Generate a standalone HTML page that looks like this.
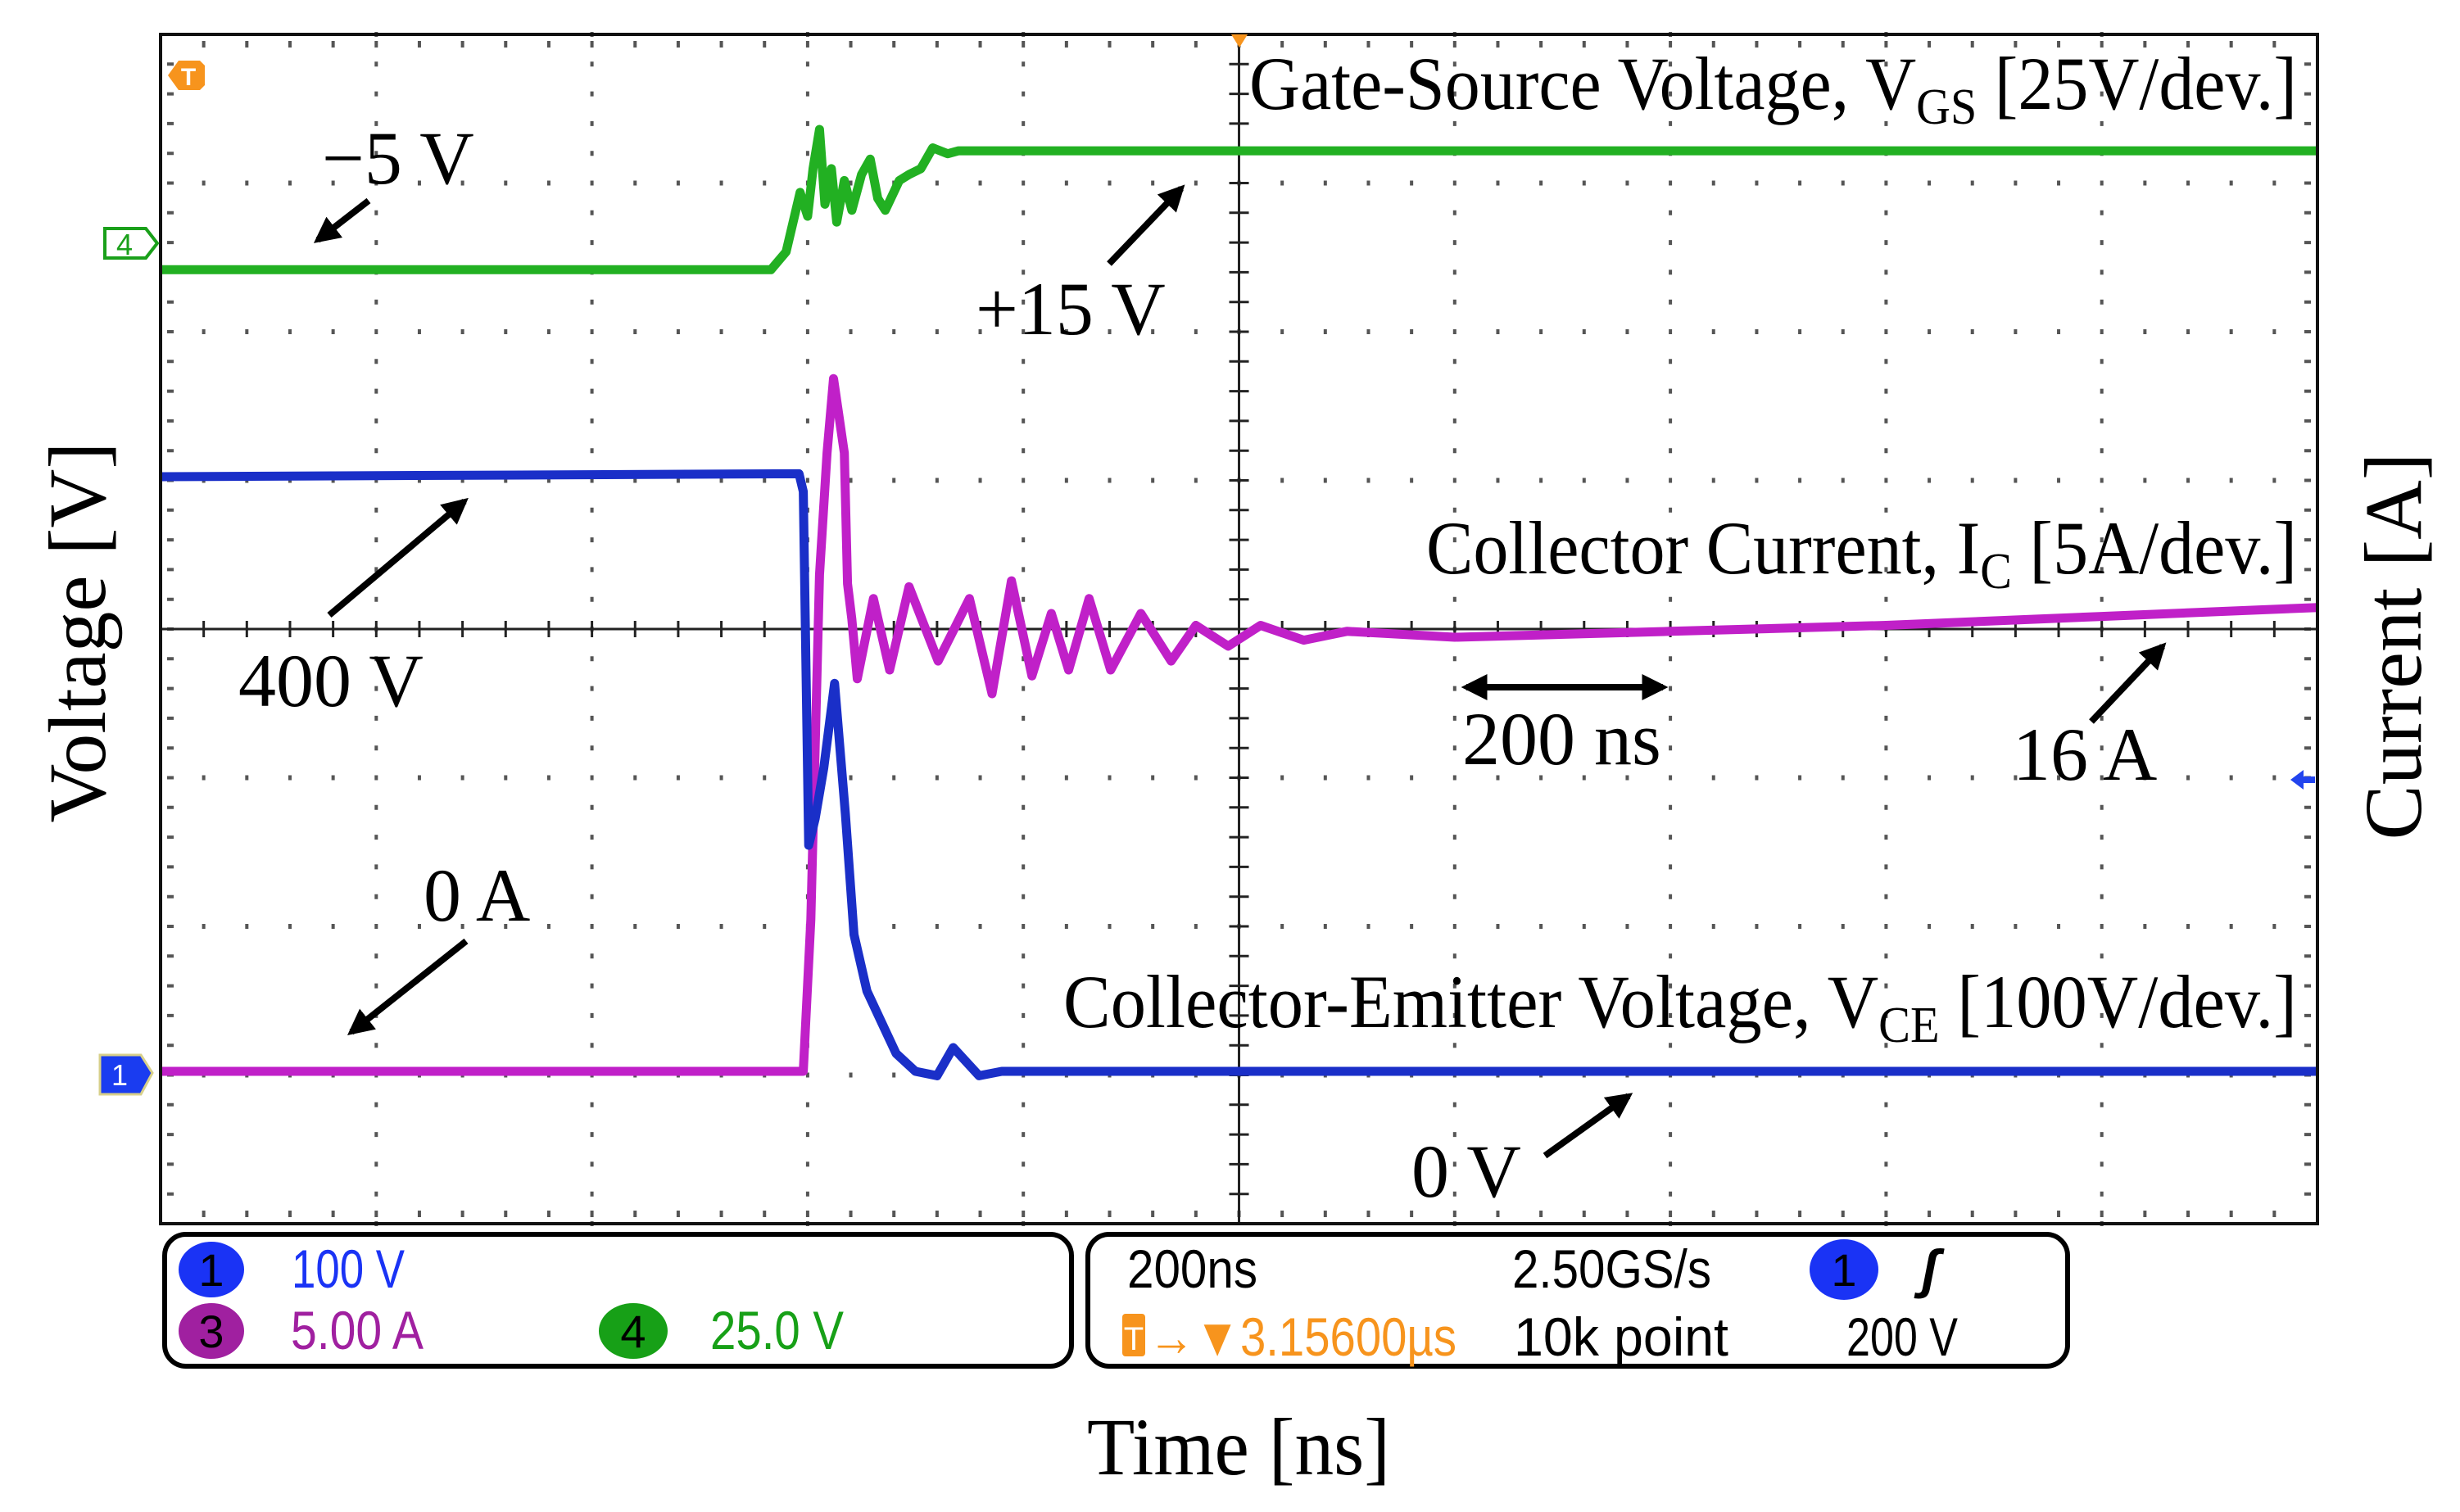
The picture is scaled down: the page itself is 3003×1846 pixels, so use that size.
<!DOCTYPE html>
<html><head><meta charset="utf-8"><style>
html,body{margin:0;padding:0;background:#fff;}
svg{display:block;}
.ser{font-family:"Liberation Serif","DejaVu Serif",serif;fill:#000;}
.scope{font-family:"Liberation Sans Narrow","Liberation Sans",sans-serif;}
</style></head><body>
<svg id="chart" width="3003" height="1846" viewBox="0 0 3003 1846" xmlns="http://www.w3.org/2000/svg">
<g id="grid"></g>
<g id="traces"></g>
<rect x="196" y="42" width="2633" height="1452" fill="none" stroke="#111" stroke-width="4"/>

<!-- markers -->
<g>
<polygon points="205,92 218,74 244,74 250,80 250,104 244,110 218,110" fill="#f7941d"/>
<text x="230" y="104" font-family="Liberation Sans,sans-serif" font-size="30" fill="#fff" text-anchor="middle" font-weight="bold">T</text>
</g>
<polygon points="1503,42 1523,42 1513,58" fill="#f7941d"/>
<g>
<polygon points="128,279 178,279 192,297 178,315 128,315" fill="#fff" stroke="#1aa01a" stroke-width="4"/>
<text x="152" y="311" font-family="Liberation Sans,sans-serif" font-size="36" fill="#1aa01a" text-anchor="middle">4</text>
</g>
<g>
<polygon points="122,1288 172,1288 186,1310 172,1336 122,1336" fill="#1a3cf0" stroke="#d8d08a" stroke-width="3"/>
<text x="146" y="1325" font-family="Liberation Sans,sans-serif" font-size="36" fill="#fff" text-anchor="middle">1</text>
</g>
<polygon points="2796,952 2812,940 2812,948 2826,948 2826,956 2812,956 2812,964" fill="#2244ee"/>

<!-- trace labels -->
<text class="ser" x="1525" y="133" font-size="92" textLength="1279" lengthAdjust="spacingAndGlyphs">Gate-Source Voltage, V<tspan font-size="62" dy="18">GS</tspan><tspan dy="-18"> [25V/dev.]</tspan></text>
<text class="ser" x="1741" y="700" font-size="92" textLength="1063" lengthAdjust="spacingAndGlyphs">Collector Current, I<tspan font-size="62" dy="18">C</tspan><tspan dy="-18"> [5A/dev.]</tspan></text>
<text class="ser" x="1298" y="1254" font-size="92" textLength="1506" lengthAdjust="spacingAndGlyphs">Collector-Emitter Voltage, V<tspan font-size="62" dy="18">CE</tspan><tspan dy="-18"> [100V/dev.]</tspan></text>

<text class="ser" x="393" y="224" font-size="92">−5 V</text>
<text class="ser" x="1191" y="408" font-size="92">+15 V</text>
<text class="ser" x="291" y="862" font-size="92">400 V</text>
<text class="ser" x="1785" y="933" font-size="92">200 ns</text>
<text class="ser" x="2457" y="952" font-size="92">16 A</text>
<text class="ser" x="517" y="1124" font-size="92">0 A</text>
<text class="ser" x="1723" y="1461" font-size="92">0 V</text>

<defs><marker id="ah" viewBox="0 0 10 10" refX="8" refY="5" markerWidth="4" markerHeight="4" orient="auto-start-reverse"><path d="M0,0 L10,5 L0,10 z" fill="#000"/></marker></defs>
<g stroke="#000" stroke-width="8" fill="none">
<line x1="450" y1="245" x2="388" y2="293" marker-end="url(#ah)"/>
<line x1="1354" y1="322" x2="1442" y2="230" marker-end="url(#ah)"/>
<line x1="402" y1="751" x2="567" y2="612" marker-end="url(#ah)"/>
<line x1="1790" y1="839" x2="2030" y2="839" marker-start="url(#ah)" marker-end="url(#ah)"/>
<line x1="2553" y1="881" x2="2640" y2="789" marker-end="url(#ah)"/>
<line x1="569" y1="1149" x2="429" y2="1260" marker-end="url(#ah)"/>
<line x1="1886" y1="1411" x2="1988" y2="1338" marker-end="url(#ah)"/>
</g>

<!-- axis titles -->
<text class="ser" transform="translate(128,772) rotate(-90)" font-size="100" text-anchor="middle" textLength="465" lengthAdjust="spacingAndGlyphs">Voltage [V]</text>
<text class="ser" transform="translate(2955,789) rotate(-90)" font-size="100" text-anchor="middle" textLength="473" lengthAdjust="spacingAndGlyphs">Current [A]</text>
<text class="ser" x="1512" y="1800" font-size="100" text-anchor="middle" textLength="370" lengthAdjust="spacingAndGlyphs">Time [ns]</text>

<!-- channel info box -->
<g>
<rect x="201" y="1507" width="1107" height="161" rx="26" fill="#fff" stroke="#000" stroke-width="6"/>
<ellipse cx="258" cy="1550" rx="40" ry="34" fill="#1a33f5"/>
<text class="scope" x="258" y="1570" font-size="56" text-anchor="middle" fill="#000">1</text>
<text class="scope" x="356" y="1572" font-size="66" textLength="138" lengthAdjust="spacingAndGlyphs" fill="#1a33f5">100 V</text>
<ellipse cx="258" cy="1625" rx="40" ry="34" fill="#a020a0"/>
<text class="scope" x="258" y="1645" font-size="56" text-anchor="middle" fill="#000">3</text>
<text class="scope" x="355" y="1647" font-size="66" textLength="162" lengthAdjust="spacingAndGlyphs" fill="#a020a0">5.00 A</text>
<ellipse cx="773" cy="1625" rx="42" ry="34" fill="#17a017"/>
<text class="scope" x="773" y="1645" font-size="56" text-anchor="middle" fill="#000">4</text>
<text class="scope" x="867" y="1647" font-size="66" textLength="163" lengthAdjust="spacingAndGlyphs" fill="#17a017">25.0 V</text>
</g>
<g>
<rect x="1328" y="1507" width="1196" height="161" rx="26" fill="#fff" stroke="#000" stroke-width="6"/>
<text class="scope" x="1376" y="1572" font-size="66" textLength="159" lengthAdjust="spacingAndGlyphs" fill="#000">200ns</text>
<text class="scope" x="1846" y="1572" font-size="66" textLength="243" lengthAdjust="spacingAndGlyphs" fill="#000">2.50GS/s</text>
<ellipse cx="2251" cy="1550" rx="42" ry="37" fill="#1a33f5"/>
<text class="scope" x="2251" y="1570" font-size="56" text-anchor="middle" fill="#000">1</text>
<text class="scope" x="2345" y="1572" font-size="66" font-style="italic" font-weight="bold" fill="#000">ʃ</text>
<rect x="1370" y="1604" width="28" height="52" rx="4" fill="#f7941d"/>
<text class="scope" x="1384" y="1648" font-size="40" text-anchor="middle" fill="#fff">T</text>
<text class="scope" x="1402" y="1655" font-size="66" textLength="376" lengthAdjust="spacingAndGlyphs" fill="#f7941d">→▼3.15600µs</text>
<text class="scope" x="1848" y="1655" font-size="66" textLength="262" lengthAdjust="spacingAndGlyphs" fill="#000">10k point</text>
<text class="scope" x="2254" y="1655" font-size="66" textLength="136" lengthAdjust="spacingAndGlyphs" fill="#000">200 V</text>
</g>
</svg>
<script>
// ---- data (time in ns) ----
const vceTimes = [0, 592, 596, 601, 607, 615, 625, 635, 643, 655, 682, 700, 720, 735, 759, 780, 2000];
const vceValues = [400, 402, 390, 152, 170, 204, 261, 173, 92, 54, 12, 0, -3, 16, -3, 0, 0];
const icTimes = [0, 596, 603, 607, 611, 618, 624, 634, 637, 641, 646, 661, 676, 694, 721, 750, 771, 789, 808, 826, 842, 861, 881, 909, 937, 960, 990, 1020, 1060, 1100, 1200, 1400, 1600, 1800, 2000];
const icValues = [0, 0, 5.1, 10.9, 16.7, 20.8, 23.3, 20.8, 16.4, 15.2, 13.2, 15.9, 13.5, 16.3, 13.8, 15.9, 12.7, 16.5, 13.3, 15.4, 13.5, 15.9, 13.5, 15.4, 13.8, 15.0, 14.3, 15.0, 14.5, 14.8, 14.6, 14.8, 15.0, 15.3, 15.6];
const vgsTimes = [0, 566, 580, 593, 600, 605, 611, 616, 622, 627, 634, 641, 650, 658, 665, 672, 685, 694, 705, 716, 730, 740, 2000];
const vgsValues = [-5, -5, -2, 8, 4, 12, 18.6, 6, 12, 3, 10, 5, 11, 13.6, 7, 5, 10, 11, 12, 15.5, 14.5, 15, 15];
const timeRange = [0, 2000];
const xDivs = 10, yDivs = 8;

// ---- axes ----
const PL = 196, PR = 2829, PT = 42, PB = 1494;
const divH = (PB - PT) / yDivs, divW = (PR - PL) / xDivs;
const xOf = t => PL + (t - timeRange[0]) / (timeRange[1] - timeRange[0]) * (PR - PL);
const yVce = v => 1308 - v / 100 * divH;   // 100 V/div, ground at marker 1
const yIc = a => 1308 - a / 5 * divH;      // 5 A/div
const yVgs = v => 293 - v / 25 * divH;     // 25 V/div

const NS = "http://www.w3.org/2000/svg";
const grid = document.getElementById('grid');
let gd = '';
for (let i = 1; i < xDivs; i++) {
  const x = PL + i * divW;
  if (i === 5) continue;
  for (let j = 0; j <= yDivs * 5; j++) { const y = PT + j * divH / 5; gd += `M${x-2},${y-3}h4v6h-4z`; }
}
for (let j = 1; j < yDivs; j++) {
  const y = PT + j * divH;
  if (j === 4) continue;
  for (let i = 0; i <= xDivs * 5; i++) { const x = PL + i * divW / 5; gd += `M${x-2},${y-3}h4v6h-4z`; }
}
// edge minor ticks
for (let j = 0; j <= yDivs * 5; j++) { const y = PT + j * divH / 5; gd += `M${PL+8},${y-2}h8v4h-8z M${PR-16},${y-2}h8v4h-8z`; }
for (let i = 0; i <= xDivs * 5; i++) { const x = PL + i * divW / 5; gd += `M${x-2},${PT+8}h4v8h-4z M${x-2},${PB-16}h4v8h-4z`; }
const dots = document.createElementNS(NS, 'path');
dots.setAttribute('d', gd);
dots.setAttribute('fill', '#555');


grid.appendChild(dots);
const cx = PL + 5 * divW, cy = PT + 4 * divH;
let cd = `M${PL},${cy}H${PR}M${cx},${PT}V${PB}`;
for (let j = 0; j <= yDivs * 5; j++) { const y = PT + j * divH / 5; cd += `M${cx-12},${y}h24`; }
for (let i = 0; i <= xDivs * 5; i++) { const x = PL + i * divW / 5; cd += `M${x},${cy-10}v20`; }
const cross = document.createElementNS(NS, 'path');
cross.setAttribute('d', cd);
cross.setAttribute('stroke', '#222');
cross.setAttribute('stroke-width', '3');
cross.setAttribute('fill', 'none');


grid.appendChild(cross);

const traces = document.getElementById('traces');
function drawTrace(ts, vs, yf, color, name) {
  const d = ts.map((t, i) => (i ? 'L' : 'M') + xOf(t).toFixed(1) + ',' + yf(vs[i]).toFixed(1)).join('');
  const p = document.createElementNS(NS, 'path');
  p.setAttribute('d', d);
  p.setAttribute('fill', 'none');
  p.setAttribute('stroke', color);
  p.setAttribute('stroke-width', '11');
  p.setAttribute('stroke-linejoin', 'round');
  
  
  traces.appendChild(p);
}
drawTrace(vgsTimes, vgsValues, yVgs, '#22b022', 'vgs-trace');
drawTrace(icTimes, icValues, yIc, '#c020c8', 'ic-trace');
drawTrace(vceTimes, vceValues, yVce, '#1a2fc8', 'vce-trace');
</script>
</body></html>
